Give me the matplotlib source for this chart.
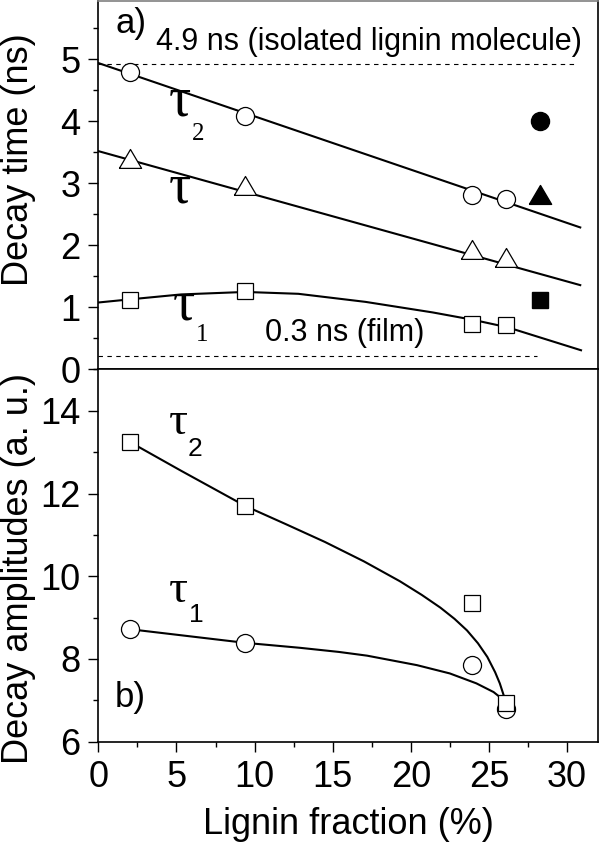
import matplotlib
matplotlib.use('Agg')
import matplotlib.pyplot as plt
from matplotlib.ticker import MultipleLocator

plt.rcParams['font.family'] = ['Liberation Sans', 'DejaVu Sans']

# lignin fraction of the samples (%)
lignin = [2.0, 9.4, 23.9, 26.1]
film_x = [28.3]

# a) decay times (ns)
tau2_ns = [4.80, 4.09, 2.81, 2.75]
tau_ns = [3.40, 2.96, 1.93, 1.79]
tau1_ns = [1.12, 1.27, 0.73, 0.71]
film_tau2 = [4.01]
film_tau = [2.81]
film_tau1 = [1.12]

# fit lines
tau2_fit_x = [0.0, 30.85]
tau2_fit_y = [4.94, 2.29]
tau_fit_x = [0.0, 30.85]
tau_fit_y = [3.52, 1.36]
tau1_fit_x = [0.0, 2.0, 5.3, 9.4, 12.8, 17.1, 21.4, 24.0, 26.2, 30.9]
tau1_fit_y = [1.08, 1.13, 1.21, 1.25, 1.22, 1.09, 0.92, 0.80, 0.68, 0.31]

isolated_ns = 4.93
isolated_x = [0.0, 30.65]
film_ns = 0.21
film_line_x = [0.0, 28.1]

# b) decay amplitudes (a. u.)
amp2 = [13.25, 11.70, 9.35, 6.93]
amp1 = [8.72, 8.39, 7.85, 6.80]
amp2_fit_x = [2.0, 5.3, 9.4, 12.0, 14.5, 17.0, 19.3, 20.7, 21.9, 22.8,
              23.6, 24.3, 24.9, 25.4, 25.7, 25.95, 26.1]
amp2_fit_y = [13.25, 12.55, 11.70, 11.26, 10.83, 10.36, 9.88, 9.55, 9.24, 8.97,
              8.69, 8.38, 8.05, 7.68, 7.41, 7.12, 6.93]
amp1_fit_x = [2.0, 9.4, 12.9, 15.4, 17.2, 20.4, 22.5, 24.2, 25.3, 25.8, 26.1]
amp1_fit_y = [8.72, 8.39, 8.27, 8.17, 8.08, 7.85, 7.65, 7.41, 7.20, 7.05, 6.93]

FS = 26
tri = [(-1, -0.8), (1, -0.8), (0, 0.9), (-1, -0.8)]
open_kw = dict(ls='none', mfc='white', mec='black', mew=0.9, zorder=5)

fig = plt.figure(figsize=(6, 8.43), dpi=100)
ax1 = fig.add_axes([0.164, 0.5617, 0.833, 0.4371])
ax2 = fig.add_axes([0.164, 0.1202, 0.833, 0.4415])

# --- panel a
ax1.plot(tau2_fit_x, tau2_fit_y, 'k-', lw=1.5)
ax1.plot(tau_fit_x, tau_fit_y, 'k-', lw=1.5)
ax1.plot(tau1_fit_x, tau1_fit_y, 'k-', lw=1.5)
ax1.plot(isolated_x, [isolated_ns] * 2, color='black', lw=0.8, ls=(0, (4, 4)))
ax1.plot(film_line_x, [film_ns] * 2, color='black', lw=0.8, ls=(0, (4, 4)))
ax1.plot(lignin, tau2_ns, marker='o', ms=13, **open_kw)
ax1.plot(lignin, tau_ns, marker=tri, ms=16, **open_kw)
ax1.plot(lignin, tau1_ns, marker='s', ms=12, **open_kw)
ax1.plot(film_x, film_tau2, 'ko', ms=13)
ax1.plot(film_x, film_tau, 'k', marker=tri, ms=16, ls='none')
ax1.plot(film_x, film_tau1, 'ks', ms=12)

ax1.text(1.1, 5.43, 'a)', fontsize=25)
ax1.text(3.69, 5.15, '4.9 ns (isolated lignin molecule)', fontsize=22)
ax1.text(10.65, 0.46, '0.3 ns (film)', fontsize=22)
ax1.text(5.2, 4.09, '\u03c4', family='Liberation Serif', fontsize=40, ha='center')
ax1.text(6.38, 3.70, '2', family='Liberation Serif', fontsize=18, ha='center')
ax1.text(5.22, 2.69, '\u03c4', family='Liberation Serif', fontsize=40, ha='center')
ax1.text(5.5, 0.80, '\u03c4', family='Liberation Serif', fontsize=40, ha='center')
ax1.text(6.63, 0.46, '1', family='Liberation Serif', fontsize=18, ha='center')

ax1.set_xlim(0, 32)
ax1.set_ylim(0, 5.94)
ax1.set_xticks([])
ax1.yaxis.set_major_locator(MultipleLocator(1))
ax1.yaxis.set_minor_locator(MultipleLocator(0.5))
ax1.set_ylabel('Decay time (ns)', fontsize=FS)
ax1.yaxis.set_label_coords(-0.125, 0.57)
ax1.spines['top'].set_color('0.5')

# --- panel b
ax2.plot(amp2_fit_x, amp2_fit_y, 'k-', lw=1.5)
ax2.plot(amp1_fit_x, amp1_fit_y, 'k-', lw=1.5)
ax2.plot(lignin, amp1, marker='o', ms=13, **open_kw)
ax2.plot(lignin, amp2, marker='s', ms=12, **open_kw)

ax2.text(1.06, 6.84, 'b)', fontsize=25)
ax2.text(5.13, 13.44, '\u03c4', family='Liberation Serif', fontsize=34, ha='center')
ax2.text(6.2, 12.92, '2', fontsize=19, ha='center')
ax2.text(5.1, 9.37, '\u03c4', family='Liberation Serif', fontsize=34, ha='center')
ax2.text(6.25, 8.9, '1', fontsize=19, ha='center')

ax2.set_xlim(0, 32)
ax2.set_ylim(6, 15)
ax2.xaxis.set_major_locator(MultipleLocator(5))
ax2.xaxis.set_minor_locator(MultipleLocator(2.5))
ax2.yaxis.set_major_locator(MultipleLocator(2))
ax2.yaxis.set_minor_locator(MultipleLocator(1))
ax2.set_xlabel('Lignin fraction (%)', fontsize=FS, labelpad=9)
ax2.set_ylabel('Decay amplitudes (a. u.)', fontsize=FS)
ax2.yaxis.set_label_coords(-0.125, 0.465)

for ax in (ax1, ax2):
    for s in ax.spines.values():
        s.set_linewidth(1.2)
    ax.tick_params(which='major', direction='out', length=7, width=1.0,
                   labelsize=FS, pad=6)
    ax.tick_params(which='minor', direction='out', length=3.5, width=1.0)
ax1.tick_params(axis='x', which='both', bottom=False)

fig.savefig('out.png', dpi=100)
